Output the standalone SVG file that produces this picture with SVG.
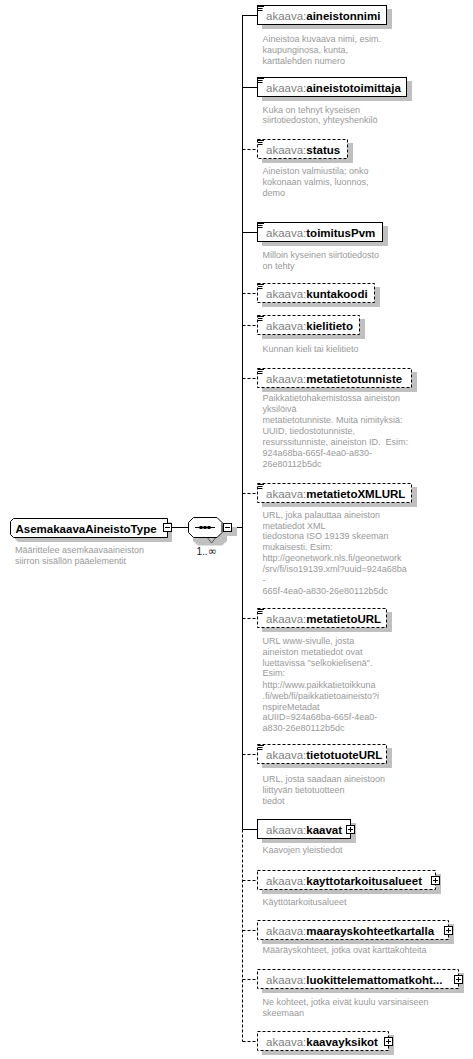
<svg xmlns="http://www.w3.org/2000/svg" width="473" height="1059" viewBox="0 0 473 1059">
<style>
.bx{fill:#fff;stroke:#000;stroke-width:1}
.opt{stroke-dasharray:3,2}
.sh{fill:#c0c0c0;stroke:none}
.ln{stroke:#000;stroke-width:1;fill:none}
.dl{stroke-dasharray:3,2}
.lbl{font-family:"Liberation Sans",Arial,sans-serif;font-size:11.5px}
.ns{fill:#808080}
.nm{fill:#000;font-weight:bold}
.desc{font-family:"Liberation Sans",Arial,sans-serif;font-size:9px;fill:#999}
.ic{stroke:#000;stroke-width:1}
</style>
<rect width="473" height="1059" fill="#fff"/>

<g id="connectors">
<line class="ln" x1="171.5" y1="527.5" x2="188" y2="527.5"/>
<line class="ln" x1="231.5" y1="527.5" x2="242.5" y2="527.5"/>
<line class="ln" x1="242.5" y1="15" x2="242.5" y2="829.5"/>
<line class="ln dl" x1="242.5" y1="829.5" x2="242.5" y2="1041.5"/>
<line class="ln" x1="242.5" y1="15.5" x2="257.5" y2="15.5"/>
<line class="ln" x1="242.5" y1="87.5" x2="257.5" y2="87.5"/>
<line class="ln dl" x1="242.5" y1="149.5" x2="257.5" y2="149.5"/>
<line class="ln" x1="242.5" y1="232.5" x2="257.5" y2="232.5"/>
<line class="ln dl" x1="242.5" y1="293.5" x2="257.5" y2="293.5"/>
<line class="ln dl" x1="242.5" y1="325.5" x2="257.5" y2="325.5"/>
<line class="ln dl" x1="242.5" y1="378.5" x2="257.5" y2="378.5"/>
<line class="ln dl" x1="242.5" y1="493.5" x2="257.5" y2="493.5"/>
<line class="ln dl" x1="242.5" y1="618.5" x2="257.5" y2="618.5"/>
<line class="ln dl" x1="242.5" y1="754.5" x2="257.5" y2="754.5"/>
<line class="ln" x1="242.5" y1="829.5" x2="257.5" y2="829.5"/>
<line class="ln dl" x1="242.5" y1="880.5" x2="257.5" y2="880.5"/>
<line class="ln dl" x1="242.5" y1="930.5" x2="257.5" y2="930.5"/>
<line class="ln dl" x1="242.5" y1="979.5" x2="257.5" y2="979.5"/>
<line class="ln dl" x1="242.5" y1="1041.5" x2="257.5" y2="1041.5"/>
</g>

<g id="AsemakaavaAineistoType">
<path class="sh" d="M18,522 H171 L172,525 V542 L169,542 H18 L15,539 V525 Z"/>
<path class="bx" d="M13.5,518.5 H167.5 V537.5 H13.5 L10.5,534.5 V521.5 Z"/>
<rect class="bx" x="163.5" y="523.5" width="8" height="8"/>
<line class="ic" x1="165" y1="527.5" x2="170" y2="527.5"/>
<text class="lbl nm" x="15.5" y="533">AsemakaavaAineistoType</text>
<text class="desc" x="15" y="553">Määrittelee asemkaavaaineiston</text>
<text class="desc" x="15" y="564">siirron sisällön pääelementit</text>
</g>

<g id="sequence">
<path class="sh" d="M198,525.5 H222 L227,530 V541 L222,545.5 H198 L193,541 V530 Z"/>
<rect class="sh" x="227" y="527" width="10" height="9"/>
<path d="M206,536 L211.5,543 L217,536" fill="none" stroke="#555" stroke-width="1"/>
<path class="bx" d="M193.5,517.5 H217 L222,522.5 V532.5 L217,537.5 H193.5 L188.5,532.5 V522.5 Z"/>
<line class="ic" x1="195" y1="527.5" x2="215" y2="527.5"/>
<rect x="199.5" y="526" width="3" height="3" fill="#000"/>
<rect x="203.5" y="526" width="3" height="3" fill="#000"/>
<rect x="207.5" y="526" width="3" height="3" fill="#000"/>
<rect class="bx" x="223.5" y="523.5" width="8" height="8"/>
<line class="ic" x1="225" y1="527.5" x2="230" y2="527.5"/>
<text x="196.5" y="555" font-family="Liberation Sans, Arial, sans-serif" font-size="10px" fill="#222">1..<tspan font-family="DejaVu Sans, sans-serif" font-size="11px">∞</tspan></text>
</g>

<g id="aineistonnimi">
<rect class="sh" x="262" y="9" width="130" height="20"/>
<rect class="bx" x="257.5" y="5.5" width="129" height="19"/>
<path class="ic" d="M258,6.5 H264 M258,8.5 H262.5 M258,10.5 H262.5"/>
<text class="lbl" x="266" y="19.5"><tspan class="ns">akaava:</tspan><tspan class="nm">aineistonnimi</tspan></text>
<text class="desc" x="262.5" y="41.5">Aineistoa kuvaava nimi, esim.</text>
<text class="desc" x="262.5" y="52.5">kaupunginosa, kunta,</text>
<text class="desc" x="262.5" y="63.5">karttalehden numero</text>
</g>

<g id="aineistotoimittaja">
<rect class="sh" x="262" y="81" width="150" height="20"/>
<rect class="bx" x="257.5" y="77.5" width="149" height="19"/>
<path class="ic" d="M258,78.5 H264 M258,80.5 H262.5 M258,82.5 H262.5"/>
<text class="lbl" x="266" y="91.5"><tspan class="ns">akaava:</tspan><tspan class="nm">aineistotoimittaja</tspan></text>
<text class="desc" x="262.5" y="112.5">Kuka on tehnyt kyseisen</text>
<text class="desc" x="262.5" y="123">siirtotiedoston, yhteyshenkilö</text>
</g>

<g id="status">
<rect class="sh" x="262" y="143" width="91" height="20"/>
<rect class="bx opt" x="257.5" y="139.5" width="90" height="19"/>
<path class="ic" d="M258,140.5 H264 M258,142.5 H262.5 M258,144.5 H262.5"/>
<text class="lbl" x="266" y="153.5"><tspan class="ns">akaava:</tspan><tspan class="nm">status</tspan></text>
<text class="desc" x="262.5" y="174">Aineiston valmiustila; onko</text>
<text class="desc" x="262.5" y="185">kokonaan valmis, luonnos,</text>
<text class="desc" x="262.5" y="196">demo</text>
</g>

<g id="toimitusPvm">
<rect class="sh" x="262" y="226" width="126" height="20"/>
<rect class="bx" x="257.5" y="222.5" width="125" height="19"/>
<path class="ic" d="M258,223.5 H264 M258,225.5 H262.5 M258,227.5 H262.5"/>
<text class="lbl" x="266" y="236.5"><tspan class="ns">akaava:</tspan><tspan class="nm">toimitusPvm</tspan></text>
<text class="desc" x="262.5" y="257.5">Milloin kyseinen siirtotiedosto</text>
<text class="desc" x="262.5" y="268.5">on tehty</text>
</g>

<g id="kuntakoodi">
<rect class="sh" x="262" y="287" width="118" height="20"/>
<rect class="bx opt" x="257.5" y="283.5" width="117" height="19"/>
<path class="ic" d="M258,284.5 H264 M258,286.5 H262.5 M258,288.5 H262.5"/>
<text class="lbl" x="266" y="297.5"><tspan class="ns">akaava:</tspan><tspan class="nm">kuntakoodi</tspan></text>
</g>

<g id="kielitieto">
<rect class="sh" x="262" y="319" width="103" height="20"/>
<rect class="bx opt" x="257.5" y="315.5" width="102" height="19"/>
<path class="ic" d="M258,316.5 H264 M258,318.5 H262.5 M258,320.5 H262.5"/>
<text class="lbl" x="266" y="329.5"><tspan class="ns">akaava:</tspan><tspan class="nm">kielitieto</tspan></text>
<text class="desc" x="262.5" y="351.5">Kunnan kieli tai kielitieto</text>
</g>

<g id="metatietotunniste">
<rect class="sh" x="262" y="372" width="155" height="20"/>
<rect class="bx opt" x="257.5" y="368.5" width="154" height="19"/>
<path class="ic" d="M258,369.5 H264 M258,371.5 H262.5 M258,373.5 H262.5"/>
<text class="lbl" x="266" y="382.5"><tspan class="ns">akaava:</tspan><tspan class="nm">metatietotunniste</tspan></text>
<text class="desc" x="262.5" y="401">Paikkatietohakemistossa aineiston</text>
<text class="desc" x="262.5" y="412">yksilöivä</text>
<text class="desc" x="262.5" y="423">metatietotunniste. Muita nimityksiä:</text>
<text class="desc" x="262.5" y="434">UUID, tiedostotunniste,</text>
<text class="desc" x="262.5" y="445" xml:space="preserve">resurssitunniste, aineiston ID.  Esim:</text>
<text class="desc" x="262.5" y="456">924a68ba-665f-4ea0-a830-</text>
<text class="desc" x="262.5" y="467">26e80112b5dc</text>
</g>

<g id="metatietoXMLURL">
<rect class="sh" x="262" y="487" width="155" height="20"/>
<rect class="bx opt" x="257.5" y="483.5" width="154" height="19"/>
<path class="ic" d="M258,484.5 H264 M258,486.5 H262.5 M258,488.5 H262.5"/>
<text class="lbl" x="266" y="497.5"><tspan class="ns">akaava:</tspan><tspan class="nm">metatietoXMLURL</tspan></text>
<text class="desc" x="262.5" y="517.5">URL, joka palauttaa aineiston</text>
<text class="desc" x="262.5" y="528.5">metatiedot XML</text>
<text class="desc" x="262.5" y="539">tiedostona ISO 19139 skeeman</text>
<text class="desc" x="262.5" y="550">mukaisesti. Esim:</text>
<text class="desc" x="262.5" y="561">http://geonetwork.nls.fi/geonetwork</text>
<text class="desc" x="262.5" y="572">/srv/fi/iso19139.xml?uuid=924a68ba</text>
<text class="desc" x="262.5" y="582.5">-</text>
<text class="desc" x="262.5" y="593.5">665f-4ea0-a830-26e80112b5dc</text>
</g>

<g id="metatietoURL">
<rect class="sh" x="262" y="612" width="130" height="20"/>
<rect class="bx opt" x="257.5" y="608.5" width="129" height="19"/>
<path class="ic" d="M258,609.5 H264 M258,611.5 H262.5 M258,613.5 H262.5"/>
<text class="lbl" x="266" y="622.5"><tspan class="ns">akaava:</tspan><tspan class="nm">metatietoURL</tspan></text>
<text class="desc" x="262.5" y="644">URL www-sivulle, josta</text>
<text class="desc" x="262.5" y="655">aineiston metatiedot ovat</text>
<text class="desc" x="262.5" y="665.5">luettavissa "selkokielisenä".</text>
<text class="desc" x="262.5" y="676">Esim:</text>
<text class="desc" x="262.5" y="687.5">http://www.paikkatietoikkuna</text>
<text class="desc" x="262.5" y="698.5">.fi/web/fi/paikkatietoaineisto?i</text>
<text class="desc" x="262.5" y="709.5">nspireMetadat</text>
<text class="desc" x="262.5" y="720">aUIID=924a68ba-665f-4ea0-</text>
<text class="desc" x="262.5" y="731">a830-26e80112b5dc</text>
</g>

<g id="tietotuoteURL">
<rect class="sh" x="262" y="748" width="130" height="20"/>
<rect class="bx opt" x="257.5" y="744.5" width="129" height="19"/>
<path class="ic" d="M258,745.5 H264 M258,747.5 H262.5 M258,749.5 H262.5"/>
<text class="lbl" x="266" y="758.5"><tspan class="ns">akaava:</tspan><tspan class="nm">tietotuoteURL</tspan></text>
<text class="desc" x="262.5" y="781.5">URL, josta saadaan aineistoon</text>
<text class="desc" x="262.5" y="793">liittyvän tietotuotteen</text>
<text class="desc" x="262.5" y="804">tiedot</text>
</g>

<g id="kaavat">
<rect class="sh" x="262" y="823" width="94" height="20"/>
<rect class="bx" x="257.5" y="819.5" width="93" height="19"/>
<rect class="bx" x="346.5" y="825.5" width="8" height="8"/>
<path class="ic" d="M348,829.5 H353 M350.5,827 V832"/>
<text class="lbl" x="266" y="833.5"><tspan class="ns">akaava:</tspan><tspan class="nm">kaavat</tspan></text>
<text class="desc" x="262.5" y="853">Kaavojen yleistiedot</text>
</g>

<g id="kayttotarkoitusalueet">
<rect class="sh" x="262" y="874" width="179" height="20"/>
<rect class="bx opt" x="257.5" y="870.5" width="178" height="19"/>
<rect class="bx" x="431.5" y="876.5" width="8" height="8"/>
<path class="ic" d="M433,880.5 H438 M435.5,878 V883"/>
<text class="lbl" x="266" y="884.5"><tspan class="ns">akaava:</tspan><tspan class="nm">kayttotarkoitusalueet</tspan></text>
<text class="desc" x="262.5" y="905">Käyttötarkoitusalueet</text>
</g>

<g id="maarayskohteetkartalla">
<rect class="sh" x="262" y="924" width="192" height="20"/>
<rect class="bx opt" x="257.5" y="920.5" width="191" height="19"/>
<rect class="bx" x="444.5" y="926.5" width="8" height="8"/>
<path class="ic" d="M446,930.5 H451 M448.5,928 V933"/>
<text class="lbl" x="266" y="934.5"><tspan class="ns">akaava:</tspan><tspan class="nm">maarayskohteetkartalla</tspan></text>
<text class="desc" x="262.5" y="953">Määräyskohteet, jotka ovat karttakohteita</text>
</g>

<g id="luokittelemattomatkohteet">
<rect class="sh" x="262" y="973" width="202" height="20"/>
<rect class="bx opt" x="257.5" y="969.5" width="201" height="19"/>
<rect class="bx" x="454.5" y="975.5" width="8" height="8"/>
<path class="ic" d="M456,979.5 H461 M458.5,977 V982"/>
<text class="lbl" x="266" y="983.5"><tspan class="ns">akaava:</tspan><tspan class="nm">luokittelemattomatkoht...</tspan></text>
<text class="desc" x="262.5" y="1005">Ne kohteet, jotka eivät kuulu varsinaiseen</text>
<text class="desc" x="262.5" y="1015.5">skeemaan</text>
</g>

<g id="kaavayksikot">
<rect class="sh" x="262" y="1035" width="132" height="20"/>
<rect class="bx opt" x="257.5" y="1031.5" width="131" height="19"/>
<rect class="bx" x="384.5" y="1037.5" width="8" height="8"/>
<path class="ic" d="M386,1041.5 H391 M388.5,1039 V1044"/>
<text class="lbl" x="266" y="1045.5"><tspan class="ns">akaava:</tspan><tspan class="nm">kaavayksikot</tspan></text>
</g>
</svg>
